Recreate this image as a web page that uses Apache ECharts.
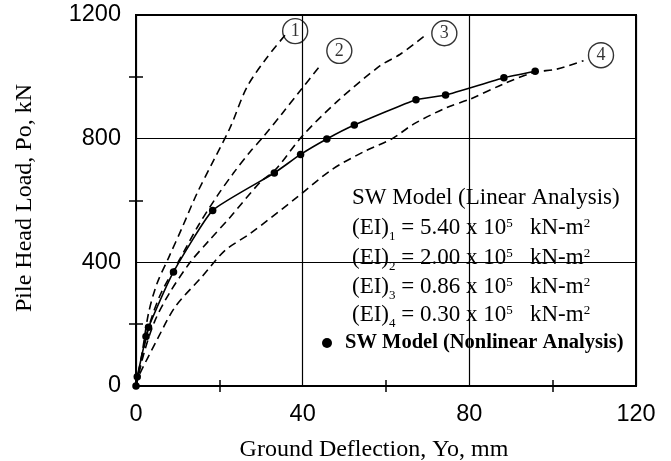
<!DOCTYPE html>
<html>
<head>
<meta charset="utf-8">
<script src="https://cdn.jsdelivr.net/npm/echarts@6/dist/echarts.min.js"></script>
<style>
  html, body { margin: 0; padding: 0; background: #fff; }
  #chart { width: 671px; height: 461px; }
</style>
</head>
<body>
<div id="chart"></div>
<script>
// values (deflection in mm, load in kN)
const nonlinX = [0, 0.3, 2.4, 3.0, 9.0, 18.4, 33.2, 39.5, 45.8, 52.4, 67.2, 74.3, 88.3, 95.8]
const nonlinY = [0, 30, 160, 190, 369, 568, 689, 749, 799, 844, 926, 941, 997, 1018]

const ei1X = [0, 1.5, 3, 5, 8, 11, 14.6, 18.6, 22.6, 26.6, 31.4, 35.8]
const ei1Y = [0, 110, 235, 330, 420, 510, 622, 729, 836, 966, 1062, 1135]

const ei2X = [0, 1.5, 3.5, 6, 10.5, 15, 19.5, 23.3, 27.4, 30.3, 35, 39.4, 44.2]
const ei2Y = [0, 100, 210, 300, 410, 520, 615, 687, 758, 802, 880, 955, 1036]

const ei3X = [0, 2, 4.5, 8, 13, 17.5, 22.6, 29.8, 33.5, 40, 48.5, 58.6, 63.4, 69.8]
const ei3Y = [0, 110, 210, 300, 400, 470, 546, 659, 700, 810, 923, 1036, 1073, 1138]

const ei4X = [0, 0.6, 5, 9.4, 15.8, 21.4, 27.4, 38.6, 47, 55, 61.5, 66.6, 74.6, 80.2, 88.2, 95.4, 101, 107.4]
const ei4Y = [0, 30, 148, 256, 353, 439, 493, 610, 700, 760, 800, 847, 901, 928, 977, 1014, 1025, 1052]

// circled curve numbers
const tagText = ['1', '2', '3', '4']
const tagX = [38.2, 48.8, 74, 111.6]
const tagY = [1148, 1084, 1141, 1070]

const xTicks = [0, 40, 80, 120]
const yTicks = [0, 400, 800, 1200]

const zip = (xs, ys) => xs.map((x, i) => [x, ys[i]])

const serif = 'Liberation Serif'
const sans = 'Liberation Sans'

const dashed = (xs, ys) => ({
    type: 'line',
    data: zip(xs, ys),
    smooth: 0.3,
    showSymbol: false,
    silent: true,
    lineStyle: { color: '#000', width: 1.6, type: [8, 5] },
})

const rich = {
    m: { fontFamily: serif, fontSize: 23, color: '#000', lineHeight: 30 },
    sb: { fontFamily: serif, fontSize: 13, color: '#000', lineHeight: 22, verticalAlign: 'bottom' },
    sp: { fontFamily: serif, fontSize: 13, color: '#000', lineHeight: 13, padding: [4, 0, 0, 0], verticalAlign: 'top' },
}

const eiLine = (n, val, y) => ({
    type: 'text',
    left: 352,
    top: y - 15,
    silent: true,
    style: {
        text: `{m|(EI)}{sb|${n}}{m| = ${val} x 10}{sp|5}{m|   kN-m}{sp|2}`,
        rich: rich,
    },
})

const minor = len => ({ show: true, splitNumber: 2, length: len, lineStyle: { color: '#000', width: 1.5 } })

const chart = echarts.init(document.getElementById('chart'))

chart.setOption({
    animation: false,
    backgroundColor: '#fff',
    grid: {
        left: 136, right: 35, top: 15, bottom: 75,
        show: true, borderColor: '#000', borderWidth: 2,
    },
    xAxis: [{
        type: 'value', min: 0, max: 120, interval: 40,
        axisLine: { show: false },
        axisTick: { show: false },
        minorTick: minor(6),
        axisLabel: {
            color: '#000', fontFamily: sans, fontSize: 23.5, margin: 17,
            formatter: v => xTicks.includes(v) ? String(v) : '',
        },
        splitLine: { show: true, lineStyle: { color: '#000', width: 1.2 } },
    }, {
        type: 'value', min: 0, max: 120, interval: 40, position: 'top',
        axisLine: { show: false },
        axisTick: { show: false },
        axisLabel: { show: false },
        minorTick: minor(6),
        splitLine: { show: false },
    }],
    yAxis: [{
        type: 'value', min: 0, max: 1200, interval: 400,
        axisLine: { show: false },
        axisTick: { show: false },
        minorTick: minor(7),
        axisLabel: {
            color: '#000', fontFamily: sans, fontSize: 23.5, margin: 15,
            formatter: v => yTicks.includes(v) ? String(v) : '',
        },
        splitLine: { show: true, lineStyle: { color: '#000', width: 1.2 } },
    }, {
        type: 'value', min: 0, max: 1200, interval: 400, position: 'right',
        axisLine: { show: false },
        axisTick: { show: false },
        axisLabel: { show: false },
        minorTick: minor(7),
        splitLine: { show: false },
    }],
    series: [
        dashed(ei1X, ei1Y),
        dashed(ei2X, ei2Y),
        dashed(ei3X, ei3Y),
        dashed(ei4X, ei4Y),
        {
            type: 'line',
            data: zip(nonlinX, nonlinY),
            smooth: 0.15,
            symbol: 'circle',
            symbolSize: 7.5,
            showAllSymbol: true,
            silent: true,
            lineStyle: { color: '#000', width: 1.6 },
            itemStyle: { color: '#000' },
        },
        {
            type: 'scatter',
            data: zip(tagX, tagY),
            symbol: 'circle',
            symbolSize: 25,
            silent: true,
            itemStyle: { color: 'rgba(255,255,255,0)', borderColor: '#000', borderWidth: 1.4 },
            label: {
                show: true, position: 'inside',
                formatter: p => tagText[p.dataIndex],
                fontFamily: serif, fontSize: 18, color: '#000',
            },
        },
    ],
    graphic: [
        {
            type: 'text', x: 352, y: 198, silent: true,
            style: { text: 'SW Model (Linear Analysis)', fontFamily: serif, fontSize: 23, fill: '#000', verticalAlign: 'middle' },
        },
        eiLine(1, '5.40', 228),
        eiLine(2, '2.00', 258),
        eiLine(3, '0.86', 287),
        eiLine(4, '0.30', 315),
        {
            type: 'circle', shape: { cx: 327, cy: 343, r: 5 }, silent: true,
            style: { fill: '#000' },
        },
        {
            type: 'text', x: 345, y: 343, silent: true,
            style: {
                text: 'SW Model (Nonlinear Analysis)', fontFamily: serif, fontSize: 20.5, fontWeight: 'bold',
                fill: '#000', verticalAlign: 'middle',
            },
        },
        {
            type: 'text', x: 374, y: 450, silent: true,
            style: {
                text: 'Ground Deflection, Yo, mm', fontFamily: serif, fontSize: 24, fill: '#000',
                align: 'center', verticalAlign: 'middle',
            },
        },
        {
            type: 'text', x: 25, y: 198, rotation: Math.PI / 2, silent: true,
            style: {
                text: 'Pile Head Load, Po, kN', fontFamily: serif, fontSize: 24, fill: '#000',
                align: 'center', verticalAlign: 'middle',
            },
        },
    ],
})
</script>
</body>
</html>
